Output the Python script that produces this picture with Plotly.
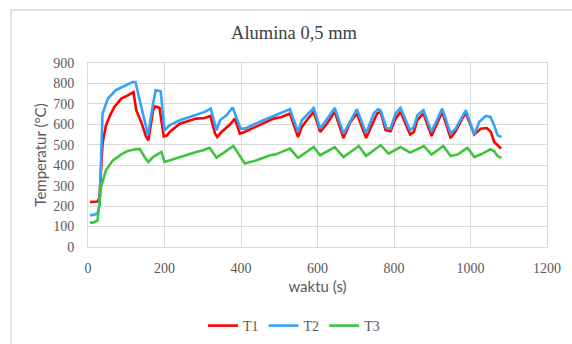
import plotly.graph_objects as go

# T1 (red)
t1_time = [5, 15, 25, 30, 38, 47, 58, 69, 87, 104, 119, 126, 139, 152, 158, 170, 176, 187, 198, 206, 215,
           240, 266, 283, 305, 320, 332, 338, 349, 371, 384, 397, 406, 432, 458, 485, 506, 528, 549, 559,
           572, 590, 607, 625, 645, 668, 686, 703, 727, 743, 756, 765, 778, 791, 804, 817, 842, 852, 861,
           877, 898, 926, 948, 961, 983, 988, 1010, 1027, 1043, 1053, 1062, 1080]
t1_vals = [220, 220, 222, 240, 506, 595, 645, 685, 726, 742, 758, 669, 612, 538, 522, 669, 688, 680, 541, 545, 565,
           603, 620, 628, 631, 641, 555, 538, 563, 599, 628, 555, 560, 582, 603, 628, 636, 653, 538, 587,
           620, 661, 563, 604, 661, 533, 612, 653, 533, 604, 653, 661, 571, 566, 628, 661, 550, 563, 620,
           653, 543, 661, 533, 566, 644, 653, 550, 579, 582, 563, 514, 481]

# T2 (blue)
t2_time = [5, 15, 25, 30, 38, 52, 73, 95, 117, 124, 139, 157, 170, 177, 190, 200, 213,
           240, 266, 283, 305, 321, 336, 345, 362, 378, 399, 410, 432, 458, 485, 528, 549, 559,
           590, 607, 645, 668, 703, 727, 747, 758, 765, 780, 791, 804, 817, 842, 852, 861,
           877, 898, 926, 948, 961, 985, 988, 1010, 1023, 1040, 1052, 1062, 1071, 1081]
t2_vals = [155, 157, 165, 200, 652, 726, 767, 786, 807, 807, 685, 546, 701, 767, 762, 571, 595,
           620, 636, 648, 661, 677, 571, 620, 644, 682, 579, 579, 599, 620, 641, 674, 563, 620,
           680, 579, 680, 555, 674, 555, 653, 674, 669, 582, 579, 653, 680, 571, 587, 644,
           669, 563, 677, 555, 579, 664, 669, 550, 612, 641, 636, 595, 546, 538]

# T3 (green)
t3_time = [5, 15, 25, 34, 47, 65, 87, 104, 121, 135, 148, 158, 170, 192, 200,
           240, 266, 283, 301, 318, 336, 358, 380, 410, 441, 476, 489, 528, 549, 590, 607,
           645, 668, 708, 727, 765, 786, 817, 842, 878, 898, 929, 948, 966, 992, 1010,
           1031, 1052, 1062, 1071, 1081]
t3_vals = [119, 120, 130, 294, 375, 424, 453, 470, 477, 480, 440, 416, 440, 465, 416,
           440, 457, 465, 473, 485, 437, 465, 494, 408, 424, 449, 452, 481, 436, 489, 449,
           489, 440, 494, 445, 498, 457, 489, 462, 494, 452, 494, 445, 452, 485, 440,
           457, 478, 468, 444, 436]

x_ticks = [0, 200, 400, 600, 800, 1000, 1200]
y_ticks = [0, 100, 200, 300, 400, 500, 600, 700, 800, 900]

series = [("T1", t1_time, t1_vals, "#FF0000"),
          ("T2", t2_time, t2_vals, "#33A3FA"),
          ("T3", t3_time, t3_vals, "#3CC43C")]

fig = go.Figure()
for name, tx, ty, col in series:
    fig.add_trace(go.Scatter(x=tx, y=ty, name=name, mode="lines",
                             line=dict(color=col, width=2.6)))

SERIF = "Liberation Serif"
SANS = "Lato"
GRID = "#D9D9D9"
TXT = "#595959"

L, R, T, B = 88, 25, 63, 97
W, H = 572, 344
pw = W - L - R
ph = H - T - B

def px_to_paper_x(px):
    return (px - L) / pw

def py_to_paper_y(py):
    return (H - B - py) / ph

fig.update_layout(
    width=W, height=H,
    margin=dict(l=L, r=R, t=T, b=B, autoexpand=False),
    paper_bgcolor="white", plot_bgcolor="white",
    title=dict(text="Alumina 0,5 mm", font=dict(family=SERIF, size=18.5, color="#404040"),
               x=px_to_paper_x(294), xref="paper", xanchor="center",
               y=1 - 33 / H, yanchor="middle"),
    showlegend=True,
    legend=dict(orientation="h", x=px_to_paper_x(294), xanchor="center",
                y=py_to_paper_y(326), yanchor="middle",
                font=dict(family=SERIF, size=14, color=TXT),
                itemwidth=30, tracegroupgap=0),
    xaxis=dict(range=[0, 1200], tickvals=x_ticks, ticktext=[str(v) for v in x_ticks],
               showgrid=True, gridcolor=GRID, gridwidth=1, automargin=False,
               zeroline=False, showline=True, linecolor=GRID, mirror=True,
               tickfont=dict(family=SERIF, size=14, color=TXT),
               ticks="", ticklabelstandoff=8,
               title=dict(text="waktu (s)", font=dict(family=SANS, size=15, color=TXT), standoff=6)),
    yaxis=dict(range=[0, 900], tickvals=y_ticks, ticktext=[str(v) for v in y_ticks],
               showgrid=True, gridcolor=GRID, gridwidth=1, automargin=False,
               zeroline=False, showline=True, linecolor=GRID, mirror=True,
               tickfont=dict(family=SERIF, size=14, color=TXT),
               ticks="", ticklabelstandoff=10,
               title=dict(text="Temperatur (\u00b0C)", font=dict(family=SANS, size=15, color=TXT), standoff=2)),
    shapes=[dict(type="rect", xref="paper", yref="paper",
                 x0=px_to_paper_x(11), x1=px_to_paper_x(620),
                 y0=py_to_paper_y(400), y1=py_to_paper_y(10),
                 line=dict(color=GRID, width=1.5), fillcolor="rgba(0,0,0,0)", layer="below")],
)

fig.write_html("out.html", config={"displayModeBar": False},
               post_script="document.body.style.margin='0px';document.body.style.overflow='hidden';")
